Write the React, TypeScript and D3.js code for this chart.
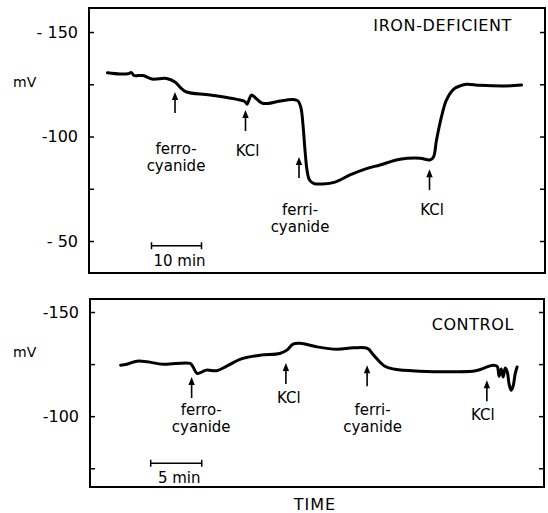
import React, { useEffect, useRef } from 'react';
import * as d3 from 'd3';

// iron-deficient trace: time (min) and membrane potential (mV)
const ironTime = [3.7, 6.2, 7.8, 8.5, 9.0, 10.8, 12.6, 15.5, 17.2, 18.4, 19.5, 24.2, 30.2, 31.2, 31.6, 32.0, 32.5, 33.5, 34.6, 35.8, 38.2, 40.9, 41.8, 42.4, 42.8, 43.2, 43.6, 44.1, 45.0, 46.8, 49.2, 52.2, 55.2, 58.2, 62.2, 66.2, 68.2, 68.9, 69.5, 70.5, 71.5, 72.9, 74.2, 75.5, 78.2, 83.5, 86.5];
const ironMv = [-130.5, -129.9, -130.0, -130.6, -129.2, -129.2, -127.5, -127.8, -126.1, -123.2, -121.3, -119.9, -117.5, -116.7, -115.5, -117.5, -119.9, -118.0, -116.0, -115.8, -117.0, -117.7, -117.0, -113.6, -105.5, -93.5, -84.0, -79.2, -77.5, -77.3, -78.2, -81.6, -84.4, -86.4, -89.1, -89.6, -88.8, -90.2, -98.3, -109.5, -117.5, -122.6, -124.2, -125.0, -124.5, -124.2, -124.6];

// control trace
const controlTime = [3.0, 3.6, 4.6, 5.6, 7.2, 9.8, 10.1, 10.5, 11.4, 12.4, 13.4, 14.7, 16.7, 18.6, 19.3, 19.9, 20.6, 22.2, 24.2, 25.8, 27.2, 27.8, 28.9, 29.9, 32.3, 35.7, 37.8, 38.8, 39.5, 39.9, 40.1, 40.3, 40.5, 40.7, 40.9, 41.08, 41.27, 41.47, 41.67, 41.86];
const controlMv = [-124.5, -124.9, -126.4, -126.1, -124.9, -125.3, -123.7, -120.5, -122.1, -121.8, -124.0, -127.3, -129.3, -130.1, -131.7, -134.6, -135.0, -133.3, -132.1, -132.8, -132.5, -129.3, -124.0, -122.5, -121.6, -121.3, -121.8, -123.4, -124.5, -124.0, -119.2, -122.6, -118.8, -123.1, -121.2, -115.4, -112.5, -114.4, -120.2, -123.6];

// additions: time, arrow tip (mV), label anchor (time, mV of last line), label lines
const ironEvents = [
  { t: 17.2, tip: -121.3, lt: 17.4, lv: -83.5, text: ['ferro-', 'cyanide'] },
  { t: 31.3, tip: -112.7, lt: 31.7, lv: -90.7, text: ['KCl'] },
  { t: 42.0, tip: -90.2, lt: 42.2, lv: -54.3, text: ['ferri-', 'cyanide'] },
  { t: 68.1, tip: -84.4, lt: 68.6, lv: -62.4, text: ['KCl'] },
];
const controlEvents = [
  { t: 9.96, tip: -118.8, lt: 10.9, lv: -92.3, text: ['ferro-', 'cyanide'] },
  { t: 19.2, tip: -125.5, lt: 19.5, lv: -106.3, text: ['KCl'] },
  { t: 27.16, tip: -124.5, lt: 27.7, lv: -92.3, text: ['ferri-', 'cyanide'] },
  { t: 38.9, tip: -117.3, lt: 38.5, lv: -98.1, text: ['KCl'] },
];

const ironTicks = [-150, -125, -100, -75, -50];
const ironTickLabels = ['- 150', '', '-100', '', '- 50'];
const controlTicks = [-150, -125, -100, -75];
const controlTickLabels = ['-150', '', '-100', ''];

const FONT = '"DejaVu Sans", sans-serif';

const panels = [
  {
    time: ironTime, mv: ironMv, events: ironEvents,
    ticks: ironTicks, tickLabels: ironTickLabels,
    tDomain: [0, 91.2], vDomain: [-161.5, -34.7],
    left: 89, right: 545, top: 8, bottom: 273,
    title: 'IRON-DEFICIENT', titleX: 512, titleY: 31, mvY: 87,
    bar: { t0: 12.5, t1: 22.5, v: -47.75, label: '10 min' },
  },
  {
    time: controlTime, mv: controlMv, events: controlEvents,
    ticks: controlTicks, tickLabels: controlTickLabels,
    tDomain: [0, 44.5], vDomain: [-156.25, -66],
    left: 90, right: 544, top: 299, bottom: 487,
    title: 'CONTROL', titleX: 514, titleY: 330, mvY: 357,
    bar: { t0: 5.95, t1: 10.95, v: -77.4, label: '5 min' },
  },
];

function Panel({ cfg }: { cfg: any }) {
  const ref = useRef<SVGGElement>(null);

  useEffect(() => {
    const g = d3.select(ref.current);
    g.selectAll('*').remove();

    const x = d3.scaleLinear().domain(cfg.tDomain).range([cfg.left, cfg.right]);
    const y = d3.scaleLinear().domain(cfg.vDomain).range([cfg.top, cfg.bottom]);

    g.append('rect')
      .attr('x', cfg.left).attr('y', cfg.top)
      .attr('width', cfg.right - cfg.left).attr('height', cfg.bottom - cfg.top)
      .attr('fill', 'none').attr('stroke', '#000').attr('stroke-width', 2);

    const labelOf = (d: number) => cfg.tickLabels[cfg.ticks.indexOf(d)] || '';
    const leftAxis = d3.axisLeft(y).tickValues(cfg.ticks).tickSizeInner(-5).tickSizeOuter(0)
      .tickPadding(11).tickFormat((d: any) => labelOf(d));
    const rightAxis = d3.axisRight(y).tickValues(cfg.ticks).tickSizeInner(-5).tickSizeOuter(0)
      .tickFormat(() => '');

    g.append('g').attr('transform', `translate(${cfg.left},0)`).call(leftAxis)
      .call((a) => a.select('.domain').remove())
      .call((a) => a.selectAll('line').attr('stroke-width', 1.5))
      .call((a) => a.selectAll('text').attr('font-family', FONT).attr('font-size', 16).attr('fill', '#000'));
    g.append('g').attr('transform', `translate(${cfg.right},0)`).call(rightAxis)
      .call((a) => a.select('.domain').remove())
      .call((a) => a.selectAll('line').attr('stroke-width', 1.5));

    const line = d3.line<number>()
      .x((_, i) => x(cfg.time[i]))
      .y((d) => y(d))
      .curve(d3.curveCatmullRom.alpha(0.5));
    g.append('path').attr('d', line(cfg.mv)).attr('fill', 'none')
      .attr('stroke', '#000').attr('stroke-width', 3)
      .attr('stroke-linejoin', 'round').attr('stroke-linecap', 'round');

    cfg.events.forEach((e: any) => {
      const ax = x(e.t);
      const ay = y(e.tip);
      g.append('path')
        .attr('d', `M${ax},${ay} L${ax - 3.2},${ay + 8} L${ax + 3.2},${ay + 8} Z`)
        .attr('fill', '#000');
      g.append('line').attr('x1', ax).attr('x2', ax).attr('y1', ay + 6).attr('y2', ay + 21)
        .attr('stroke', '#000').attr('stroke-width', 1.6);
      const n = e.text.length;
      e.text.forEach((s: string, i: number) => {
        g.append('text').attr('font-family', FONT).attr('font-size', 15)
          .attr('text-anchor', 'middle')
          .attr('x', x(e.lt)).attr('y', y(e.lv) - (n - 1 - i) * 17).text(s);
      });
    });

    const b = cfg.bar;
    const by = y(b.v);
    g.append('line').attr('x1', x(b.t0)).attr('x2', x(b.t1)).attr('y1', by).attr('y2', by)
      .attr('stroke', '#000').attr('stroke-width', 1.5);
    [b.t0, b.t1].forEach((t: number) => {
      g.append('line').attr('x1', x(t)).attr('x2', x(t)).attr('y1', by - 3.5).attr('y2', by + 3.5)
        .attr('stroke', '#000').attr('stroke-width', 1.5);
    });
    g.append('text').attr('x', (x(b.t0) + x(b.t1)) / 2 + 3).attr('y', by + 20)
      .attr('text-anchor', 'middle').attr('font-family', FONT).attr('font-size', 15)
      .text(b.label);

    g.append('text').attr('x', cfg.titleX).attr('y', cfg.titleY).attr('text-anchor', 'end')
      .attr('font-family', FONT).attr('font-size', 16).attr('letter-spacing', 0.6)
      .text(cfg.title);
    g.append('text').attr('x', 13).attr('y', cfg.mvY).attr('font-family', FONT)
      .attr('font-size', 14).text('mV');
  }, [cfg]);

  return <g ref={ref} />;
}

export default function App() {
  return (
    <svg width={548} height={513} style={{ position: 'absolute', left: 0, top: 0, background: '#fff' }}>
      {panels.map((p, i) => <Panel key={i} cfg={p} />)}
      <text x={315} y={510} textAnchor="middle" fontFamily={FONT} fontSize={16} letterSpacing={1}>TIME</text>
    </svg>
  );
}
